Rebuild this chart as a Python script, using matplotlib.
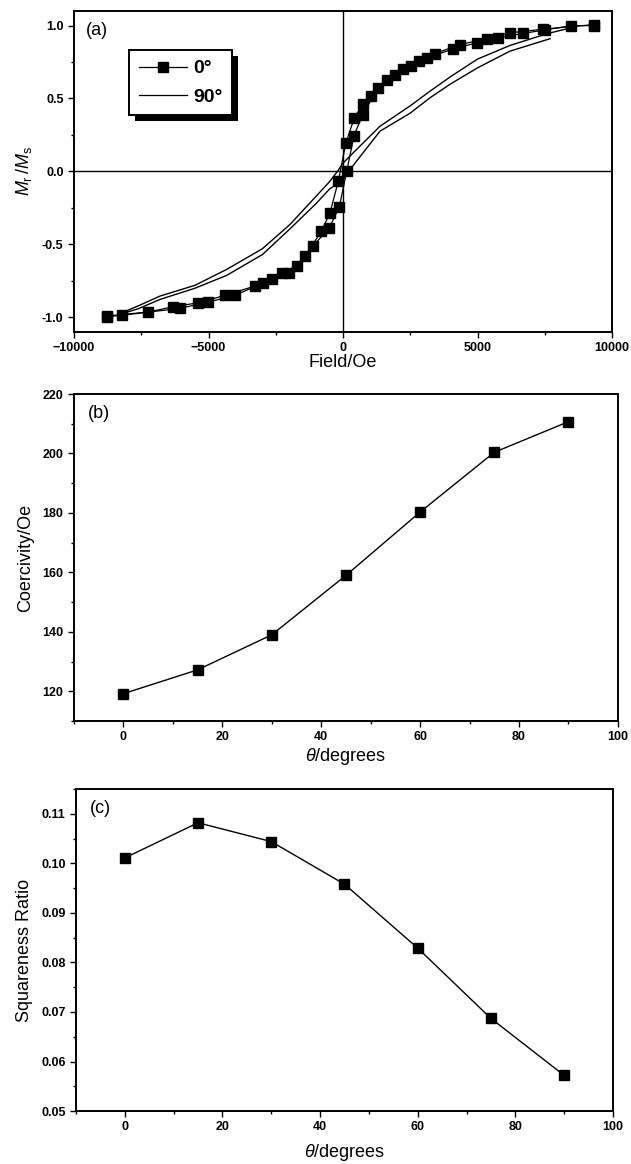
import matplotlib
matplotlib.use('Agg')
import matplotlib.pyplot as plt
from matplotlib import font_manager
from matplotlib.lines import Line2D
from matplotlib.patches import Rectangle
from matplotlib.ticker import MultipleLocator, FormatStrFormatter

# --- данные панели (a): петли гистерезиса ---
H_0_dec = [9312, 7450, 6208, 5342, 4350, 3420, 2836, 2218, 1623, 1028, 731, 420, 110,
           -174, -483, -800, -1413, -1995, -2650, -3270, -4387, -5379, -6308, -7236, -8785]
M_0_dec = [1.006, 0.975, 0.95, 0.909, 0.87, 0.808, 0.756, 0.703, 0.63, 0.52, 0.459, 0.367, 0.198,
           -0.066, -0.283, -0.409, -0.58, -0.694, -0.74, -0.785, -0.849, -0.90, -0.927, -0.963, -0.991]
H_0_asc = [-8785, -8227, -6060, -5007, -4015, -2960, -2280, -1720, -1110, -508, -137, 137, 409,
           731, 1313, 1933, 2515, 3110, 4100, 4970, 5774, 6700, 7500, 8490, 9312]
M_0_asc = [-0.995, -0.986, -0.938, -0.895, -0.849, -0.763, -0.694, -0.648, -0.51, -0.386, -0.242, 0.0, 0.246,
           0.39, 0.573, 0.664, 0.726, 0.778, 0.84, 0.881, 0.916, 0.946, 0.97, 0.999, 1.0]

H_90_dec = [8500, 7600, 6200, 5000, 4000, 3234, 2500, 1375, 500, 0, -210, -500, -1000,
            -1970, -3000, -4323, -5500, -6803, -7600, -8300]
M_90_dec = [0.985, 0.945, 0.863, 0.77, 0.65, 0.55, 0.45, 0.31, 0.15, 0.057, 0.0, -0.07, -0.17,
            -0.363, -0.53, -0.671, -0.78, -0.854, -0.92, -0.975]
H_90_asc = [-8300, -7600, -6803, -5500, -4323, -3000, -1970, -1000, -500, 0, 210, 500, 1375,
            2500, 3234, 4000, 5000, 6200, 7000, 7700]
M_90_asc = [-0.98, -0.94, -0.877, -0.80, -0.712, -0.57, -0.393, -0.22, -0.12, -0.057, 0.0, 0.07, 0.276,
            0.40, 0.505, 0.60, 0.71, 0.824, 0.87, 0.91]

# --- панели (b) и (c) ---
theta = [0, 15, 30, 45, 60, 75, 90]
coercivity = [119.2, 127.2, 139.0, 159.0, 180.3, 200.4, 210.7]
squareness = [0.1011, 0.1082, 0.1044, 0.0958, 0.0829, 0.0687, 0.0572]

# шрифт
try:
    font_manager.findfont('Liberation Sans Narrow', fallback_to_default=False)
    tick_family = 'Liberation Sans Narrow'
    tick_size = 10
except Exception:
    tick_family = 'Liberation Sans'
    tick_size = 9

plt.rcParams['font.family'] = ['Liberation Sans', 'DejaVu Sans']
plt.rcParams['mathtext.fontset'] = 'custom'
plt.rcParams['mathtext.rm'] = 'Liberation Sans'
plt.rcParams['mathtext.it'] = 'Liberation Sans:italic'
plt.rcParams['axes.linewidth'] = 1.4

fig = plt.figure(figsize=(6.31, 11.64), dpi=100)
ax1 = fig.add_axes([0.1173, 0.7148, 0.8526, 0.2758])
ax2 = fig.add_axes([0.1173, 0.3806, 0.862, 0.2809])
ax3 = fig.add_axes([0.1204, 0.0455, 0.851, 0.2766])


def style(ax):
    ax.tick_params(which='both', direction='out', top=False, right=False, width=1.0)
    ax.tick_params(which='major', length=4)
    ax.tick_params(which='minor', length=2.5)
    for lab in ax.get_xticklabels() + ax.get_yticklabels():
        lab.set_family(tick_family)
        lab.set_fontweight('bold')
        lab.set_fontsize(tick_size)


ms = 6.5
# (a)
ax1.axhline(0, color='black', lw=1.0, zorder=1)
ax1.axvline(0, color='black', lw=1.0, zorder=1)
ax1.plot(H_0_dec, M_0_dec, '-s', color='black', lw=0.9, ms=ms)
ax1.plot(H_0_asc, M_0_asc, '-s', color='black', lw=0.9, ms=ms)
ax1.plot(H_90_dec, M_90_dec, '-', color='black', lw=1.0)
ax1.plot(H_90_asc, M_90_asc, '-', color='black', lw=1.0)
ax1.set_xlim(-10000, 10000)
ax1.set_ylim(-1.1, 1.1)
ax1.xaxis.set_major_locator(MultipleLocator(5000))
ax1.xaxis.set_minor_locator(MultipleLocator(2500))
ax1.yaxis.set_major_locator(MultipleLocator(0.5))
ax1.yaxis.set_minor_locator(MultipleLocator(0.25))
ax1.yaxis.set_major_formatter(FormatStrFormatter('%.1f'))
ax1.set_xlabel('Field/Oe', fontsize=13, labelpad=0)
ax1.set_ylabel(r'$M_\mathrm{r}\,/M_\mathrm{s}$', fontsize=13, labelpad=6)
ax1.text(0.022, 0.965, '(a)', transform=ax1.transAxes, fontsize=13, va='top', ha='left')
style(ax1)

handles = [Line2D([], [], color='black', lw=0.9, marker='s', ms=ms),
           Line2D([], [], color='black', lw=0.9)]
leg = ax1.legend(handles, ['0°', '90°'], loc='upper left', bbox_to_anchor=(0.102, 0.878),
                 prop={'weight': 'bold', 'size': 14}, frameon=True, fancybox=False,
                 edgecolor='black', framealpha=1, borderpad=0.5, handlelength=2.5,
                 handletextpad=0.3, labelspacing=0.55, borderaxespad=0)
leg.get_frame().set_linewidth(1.4)

# (b)
ax2.plot(theta, coercivity, '-s', color='black', lw=1.0, ms=ms)
ax2.set_xlim(-10, 100)
ax2.set_ylim(110, 220)
ax2.xaxis.set_major_locator(MultipleLocator(20))
ax2.xaxis.set_minor_locator(MultipleLocator(10))
ax2.yaxis.set_major_locator(MultipleLocator(20))
ax2.yaxis.set_minor_locator(MultipleLocator(10))
ax2.set_xlabel(r'$\theta$/degrees', fontsize=13, labelpad=2)
ax2.set_ylabel('Coercivity/Oe', fontsize=13, labelpad=6)
ax2.text(0.025, 0.965, '(b)', transform=ax2.transAxes, fontsize=13, va='top', ha='left')
style(ax2)

# (c)
ax3.plot(theta, squareness, '-s', color='black', lw=1.0, ms=ms)
ax3.set_xlim(-10, 100)
ax3.set_ylim(0.05, 0.115)
ax3.xaxis.set_major_locator(MultipleLocator(20))
ax3.xaxis.set_minor_locator(MultipleLocator(10))
ax3.yaxis.set_major_locator(MultipleLocator(0.01))
ax3.yaxis.set_minor_locator(MultipleLocator(0.005))
ax3.yaxis.set_major_formatter(FormatStrFormatter('%.2f'))
ax3.set_xlabel(r'$\theta$/degrees', fontsize=13, labelpad=6)
ax3.set_ylabel('Squareness Ratio', fontsize=13, labelpad=6)
ax3.text(0.025, 0.965, '(c)', transform=ax3.transAxes, fontsize=13, va='top', ha='left')
style(ax3)

# тень легенды
fig.canvas.draw()
bb = leg.get_window_extent().transformed(ax1.transAxes.inverted())
dx = 6 / ax1.bbox.width
dy = 6 / ax1.bbox.height
ax1.add_patch(Rectangle((bb.x0 + dx, bb.y0 - dy), bb.width, bb.height, transform=ax1.transAxes,
                        facecolor='black', edgecolor='none', zorder=4.9))
leg.set_zorder(5)

fig.savefig('out.png', dpi=100)
